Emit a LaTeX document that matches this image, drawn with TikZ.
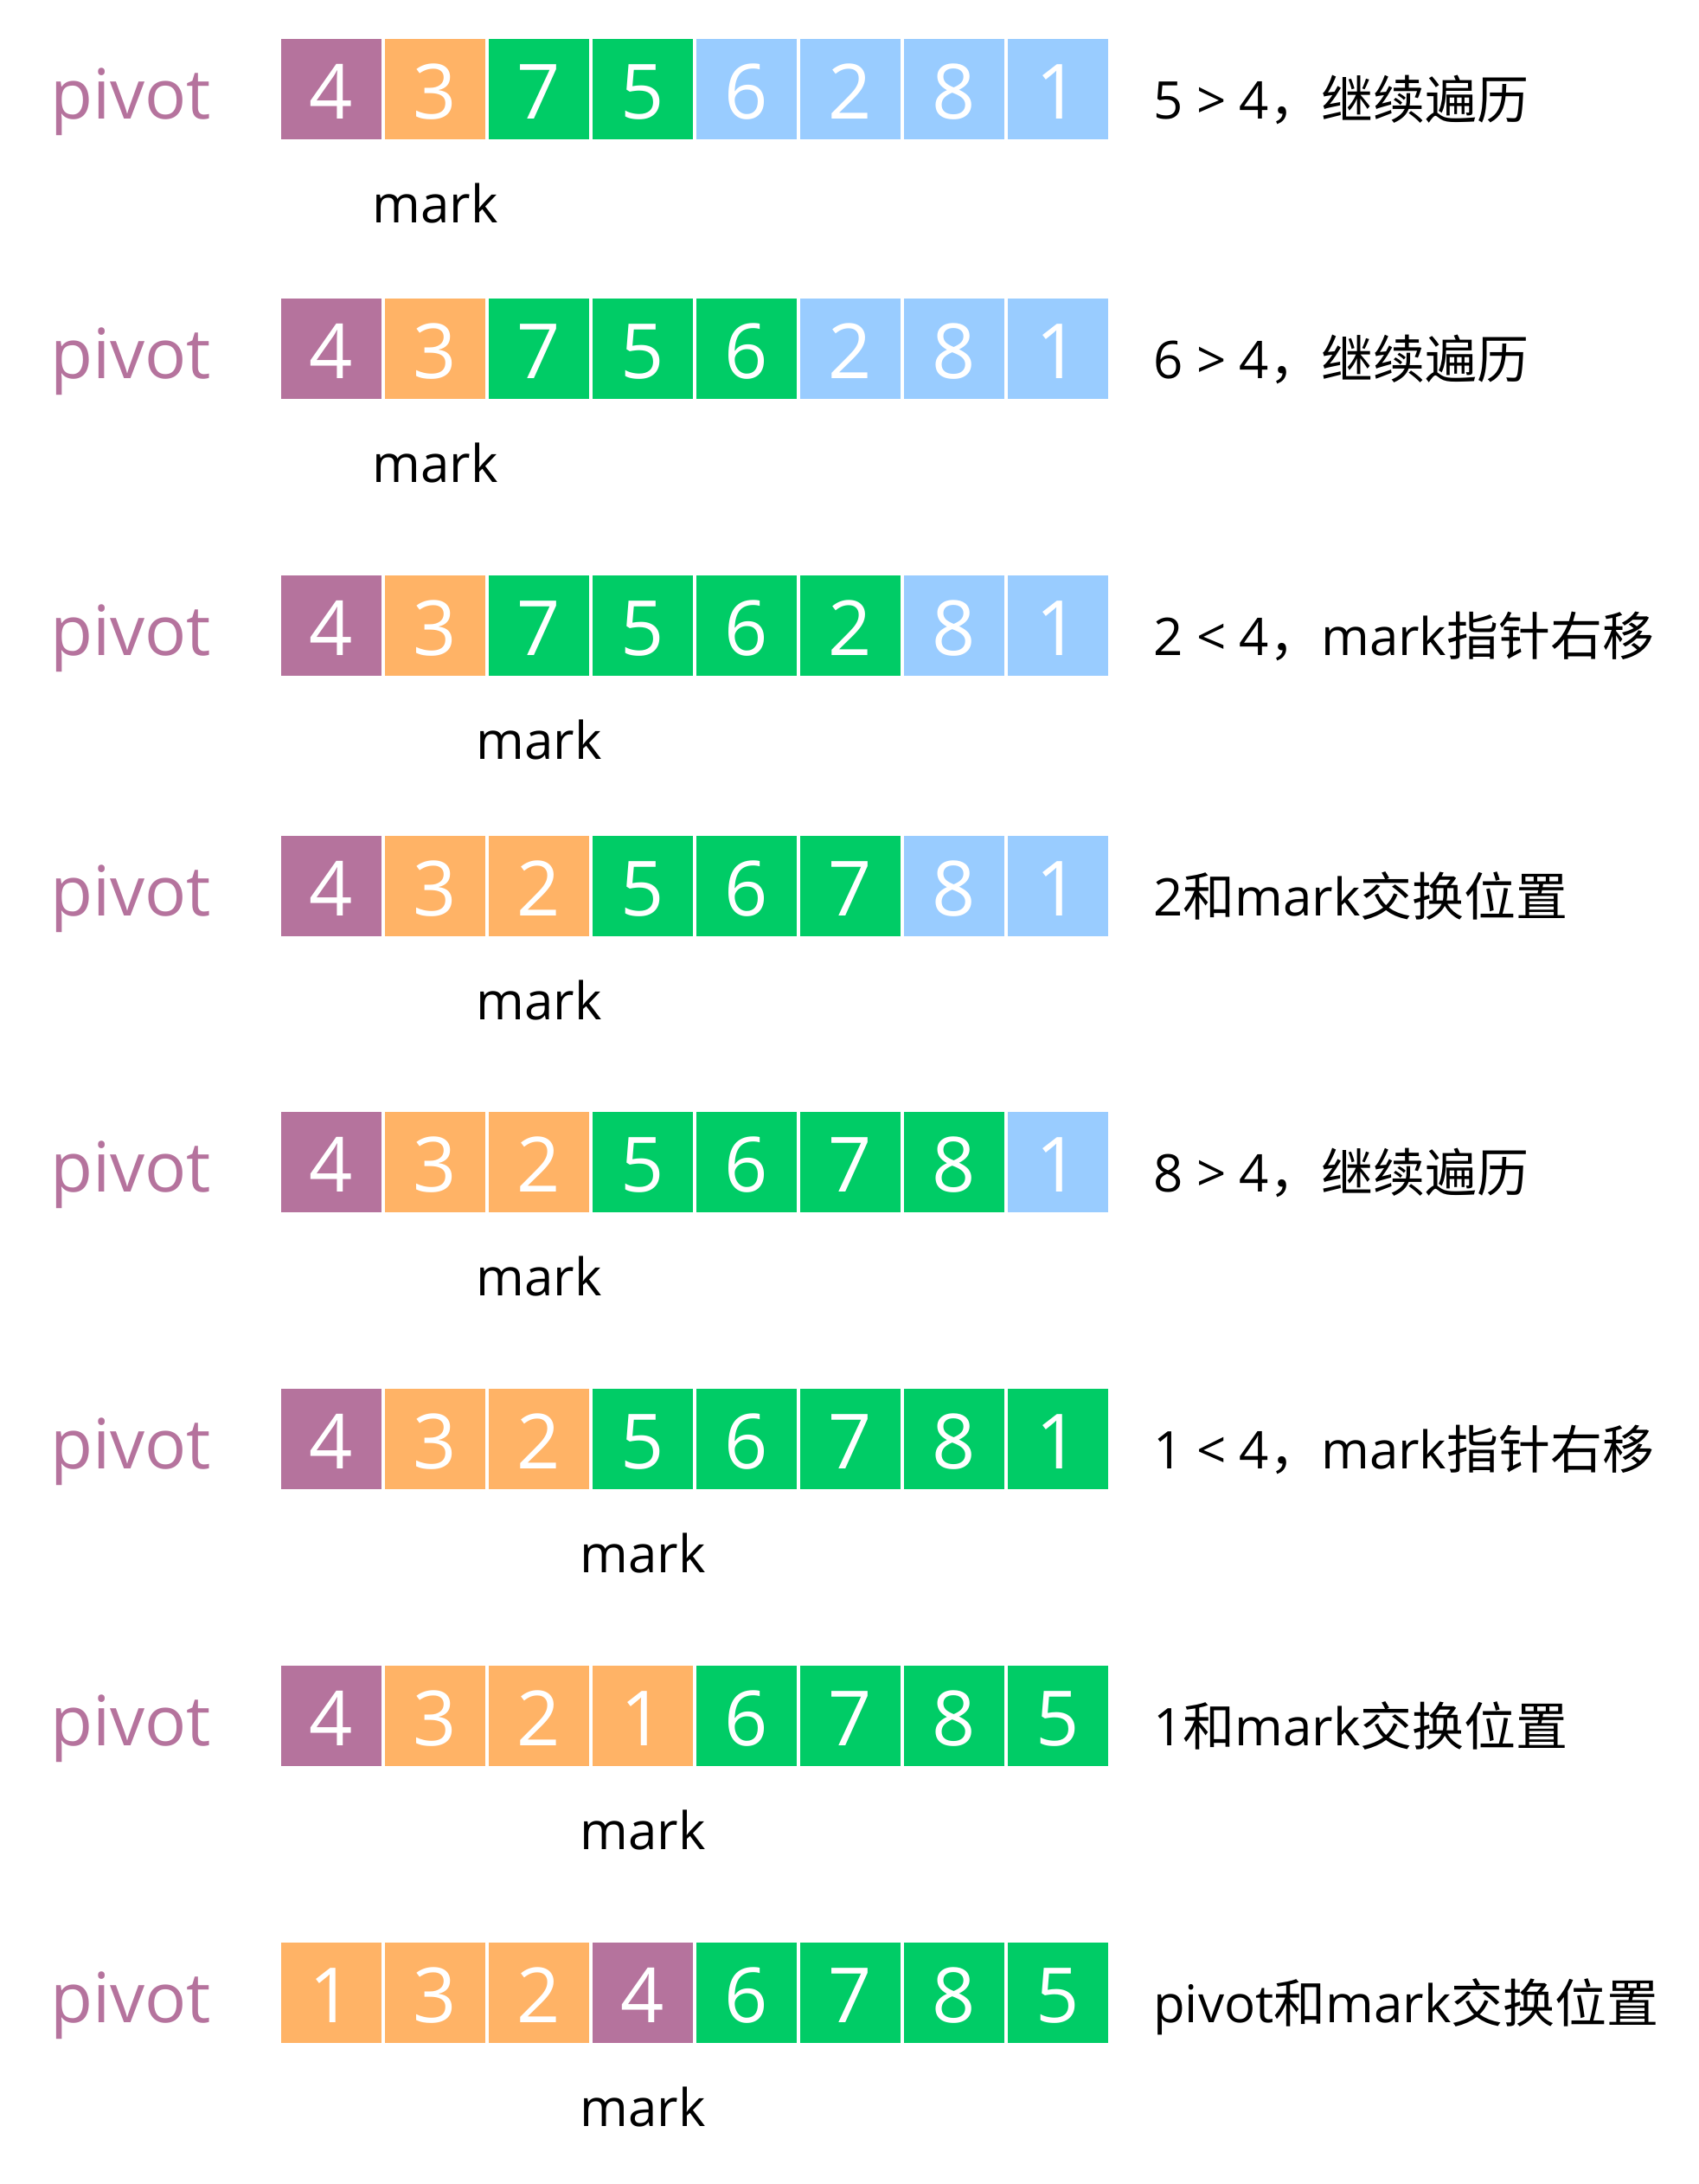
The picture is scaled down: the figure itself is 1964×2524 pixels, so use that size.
\documentclass[tikz,border=0pt]{standalone}
\usepackage{fontspec}
\setmainfont{Open Sans}
\newfontfamily\cjk{Noto Sans CJK SC}
\definecolor{cP}{HTML}{B5739D}
\definecolor{cO}{HTML}{FFB366}
\definecolor{cG}{HTML}{00CC66}
\definecolor{cB}{HTML}{99CCFF}
\tikzset{
  cell/.style={anchor=north west, minimum width=116pt, minimum height=116pt, inner sep=0pt, outer sep=0pt,
    text=white, font=\fontsize{88}{100}\selectfont, text height=68pt, text depth=0pt},
  pivotlbl/.style={anchor=base west, inner sep=0pt, text=cP, font=\fontsize{80}{96}\selectfont},
  marklbl/.style={anchor=base, inner sep=0pt, text=black, font=\fontsize{60}{72}\selectfont},
  desc/.style={anchor=base west, inner sep=0pt, text=black, font=\fontsize{60}{72}\selectfont}
}
\newcommand\qsrow[5]{%
  \node[pivotlbl] (#1p) at (58,#2+92) {pivot};
  \foreach \d/\c [count=\i] in {#3} {\node[cell,fill=\c] (#1c\i) at ({325+120*(\i-1)},#2) {\d};}
  \node[marklbl] (#1m) at ({383+120*#4},#2+212) {mark};
  \node[desc] (#1t) at (1333,#2+92) {#5};
}
\begin{document}
\begin{tikzpicture}[x=1pt,y=-1pt]
\useasboundingbox (0,0) rectangle (1964,2524);
\qsrow{ra}{45}{4/cP,3/cO,7/cG,5/cG,6/cB,2/cB,8/cB,1/cB}{1}{5 > 4{\cjk ，继续遍历}}
\qsrow{rb}{345}{4/cP,3/cO,7/cG,5/cG,6/cG,2/cB,8/cB,1/cB}{1}{6 > 4{\cjk ，继续遍历}}
\qsrow{rc}{665}{4/cP,3/cO,7/cG,5/cG,6/cG,2/cG,8/cB,1/cB}{2}{2 < 4{\cjk ，}mark{\cjk 指针右移}}
\qsrow{rd}{966}{4/cP,3/cO,2/cO,5/cG,6/cG,7/cG,8/cB,1/cB}{2}{2{\cjk 和}mark{\cjk 交换位置}}
\qsrow{re}{1285}{4/cP,3/cO,2/cO,5/cG,6/cG,7/cG,8/cG,1/cB}{2}{8 > 4{\cjk ，继续遍历}}
\qsrow{rf}{1605}{4/cP,3/cO,2/cO,5/cG,6/cG,7/cG,8/cG,1/cG}{3}{1 < 4{\cjk ，}mark{\cjk 指针右移}}
\qsrow{rg}{1925}{4/cP,3/cO,2/cO,1/cO,6/cG,7/cG,8/cG,5/cG}{3}{1{\cjk 和}mark{\cjk 交换位置}}
\qsrow{rh}{2245}{1/cO,3/cO,2/cO,4/cP,6/cG,7/cG,8/cG,5/cG}{3}{pivot{\cjk 和}mark{\cjk 交换位置}}
\end{tikzpicture}
\end{document}
